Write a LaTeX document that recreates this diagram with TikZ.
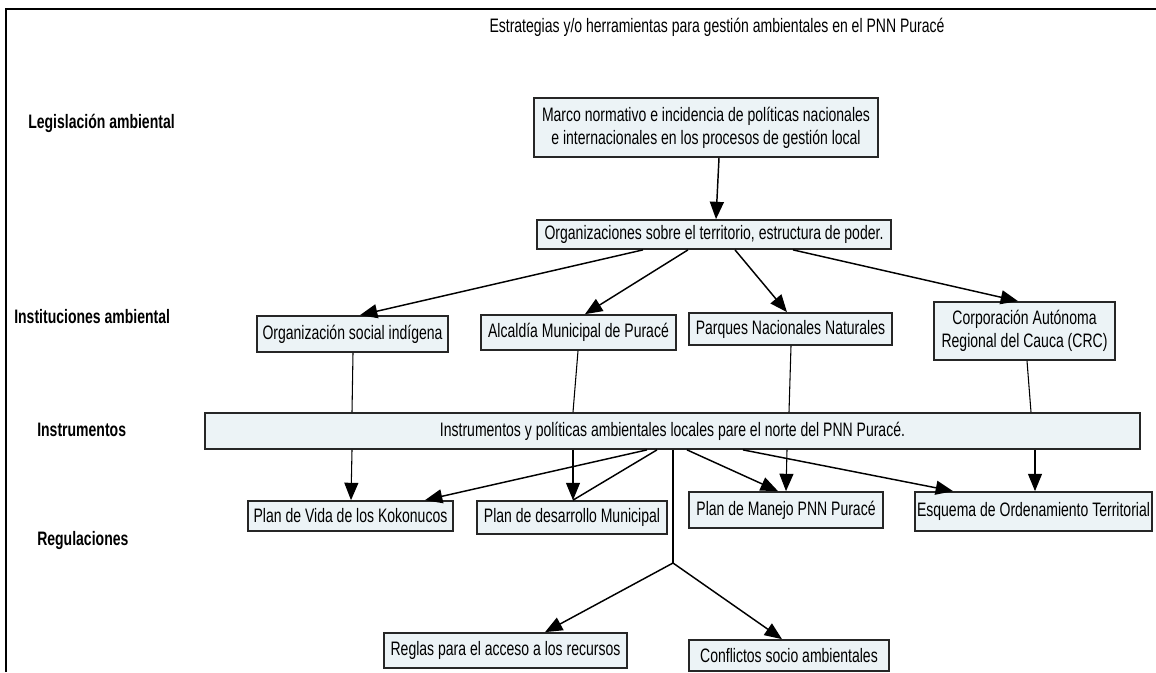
\documentclass[tikz,border=0pt]{standalone}
\usepackage{fontspec}
\setmainfont[FakeStretch=0.72]{Liberation Sans}
\usepackage{tikz}
\usetikzlibrary{arrows.meta}
\usepackage{xcolor}
\definecolor{boxfill}{RGB}{236,243,246}

\begin{document}
\begin{tikzpicture}[x=0.75pt,y=0.75pt,yscale=-1,xscale=1,
  box/.style={draw=black!85,line width=1.3pt,fill=boxfill,inner sep=0pt,align=center,font=\fontsize{14.6}{17.25}\selectfont},
  nivel/.style={anchor=west,inner sep=0pt,font=\fontsize{14.6}{17}\selectfont\bfseries},
  flecha/.style={line width=1.1pt,-{Triangle[length=13pt,width=10.5pt]}},
  linea/.style={line width=0.8pt}]
\useasboundingbox (0,0) rectangle (1156,672);

%Shape: Frame
\draw [line width=1.1pt] (6,672) -- (6,9) -- (1156,9) ;

% Text Node
\node (titulo) at (717,27) [inner sep=0pt,font=\fontsize{14.6}{17}\selectfont] {Estrategias y/o herramientas para gestión ambientales en el PNN Puracé};
% Text Node
\node (legis) at (28,123) [nivel] {Legislación ambiental};
% Text Node
\node (instit) at (14,317) [nivel] {Instituciones ambiental};
% Text Node
\node (instru) at (37,430) [nivel] {Instrumentos};
% Text Node
\node (regula) at (37,540) [nivel] {Regulaciones};

%Shape: Rectangle
\node (marco) at (706,127.5) [box,minimum width=258pt,minimum height=44.25pt] {Marco normativo e incidencia de políticas nacionales\\ e internacionales en los procesos de gestión local};
%Shape: Rectangle
\node (org) at (714,234.5) [box,minimum width=265.5pt,minimum height=21.75pt] {Organizaciones sobre el territorio, estructura de poder.};
%Shape: Rectangle
\node (osi) at (352.5,334) [box,minimum width=143.25pt,minimum height=27pt] {Organización social indígena};
%Shape: Rectangle
\node (alc) at (578.5,332.5) [box,minimum width=146.25pt,minimum height=26.25pt] {Alcaldía Municipal de Puracé};
%Shape: Rectangle
\node (pnn) at (790.5,329) [box,minimum width=152.25pt,minimum height=24pt] {Parques Nacionales Naturales};
%Shape: Rectangle
\node (crc) at (1024.5,331) [box,minimum width=135.75pt,minimum height=43.5pt] {Corporación Autónoma\\ Regional del Cauca (CRC)};
%Shape: Rectangle
\node (instr) at (672.5,431) [box,minimum width=701.25pt,minimum height=27pt] {Instrumentos y políticas ambientales locales pare el norte del PNN Puracé.};
%Shape: Rectangle
\node (vida) at (350.5,516) [box,minimum width=153.75pt,minimum height=22.5pt] {Plan de Vida de los Kokonucos};
%Shape: Rectangle
\node (pdm) at (572,517.5) [box,minimum width=142.5pt,minimum height=24.75pt] {Plan de desarrollo Municipal};
%Shape: Rectangle
\node (manejo) at (786,510) [box,minimum width=145.5pt,minimum height=27pt] {Plan de Manejo PNN Puracé};
%Shape: Rectangle
\node (eot) at (1033.5,511.5) [box,minimum width=177.75pt,minimum height=29.25pt] {Esquema de Ordenamiento Territorial};
%Shape: Rectangle
\node (reglas) at (505.5,650.5) [box,minimum width=182.25pt,minimum height=26.25pt] {Reglas para el acceso a los recursos};
%Shape: Rectangle
\node (conf) at (789,655.5) [box,minimum width=150pt,minimum height=23.25pt] {Conflictos socio ambientales};

%Straight Lines
\draw [flecha] (719,0 |- marco.south) -- (716,0 |- org.north) ;
%Straight Lines
\draw [flecha] (643,0 |- org.south) -- (360,0 |- osi.north) ;
\draw [flecha] (688,0 |- org.south) -- (585,0 |- alc.north) ;
\draw [flecha] (735,0 |- org.south) -- (787,0 |- pnn.north) ;
\draw [flecha] (793,0 |- org.south) -- (1018,0 |- crc.north) ;
%Straight Lines
\draw [linea] (353,0 |- osi.south) -- (352,0 |- instr.north) ;
\draw [linea] (578,0 |- alc.south) -- (573,0 |- instr.north) ;
\draw [linea] (791,0 |- pnn.south) -- (789,0 |- instr.north) ;
\draw [linea] (1027,0 |- crc.south) -- (1031,0 |- instr.north) ;
%Straight Lines
\draw [flecha,line width=0.8pt] (352,0 |- instr.south) -- (351,0 |- vida.north) ;
\draw [flecha] (647,0 |- instr.south) -- (425,0 |- vida.north) ;
\draw [flecha,line width=0.8pt] (573,0 |- instr.south) -- (573,0 |- pdm.north) ;
\draw [linea,line width=1.1pt] (657,0 |- instr.south) -- (573,0 |- pdm.north) ;
\draw [flecha] (687,0 |- instr.south) -- (778,0 |- manejo.north) ;
\draw [flecha,line width=0.8pt] (787,0 |- instr.south) -- (786,0 |- manejo.north) ;
\draw [flecha] (743,0 |- instr.south) -- (953,0 |- eot.north) ;
\draw [flecha,line width=0.8pt] (1035,0 |- instr.south) -- (1035,0 |- eot.north) ;
%Straight Lines
\coordinate (rama) at (673,563) ;
\draw [linea] (673,0 |- instr.south) -- (rama) ;
\draw [flecha] (rama) -- (545,0 |- reglas.north) ;
\draw [flecha] (rama) -- (782,0 |- conf.north) ;

\end{tikzpicture}
\end{document}
